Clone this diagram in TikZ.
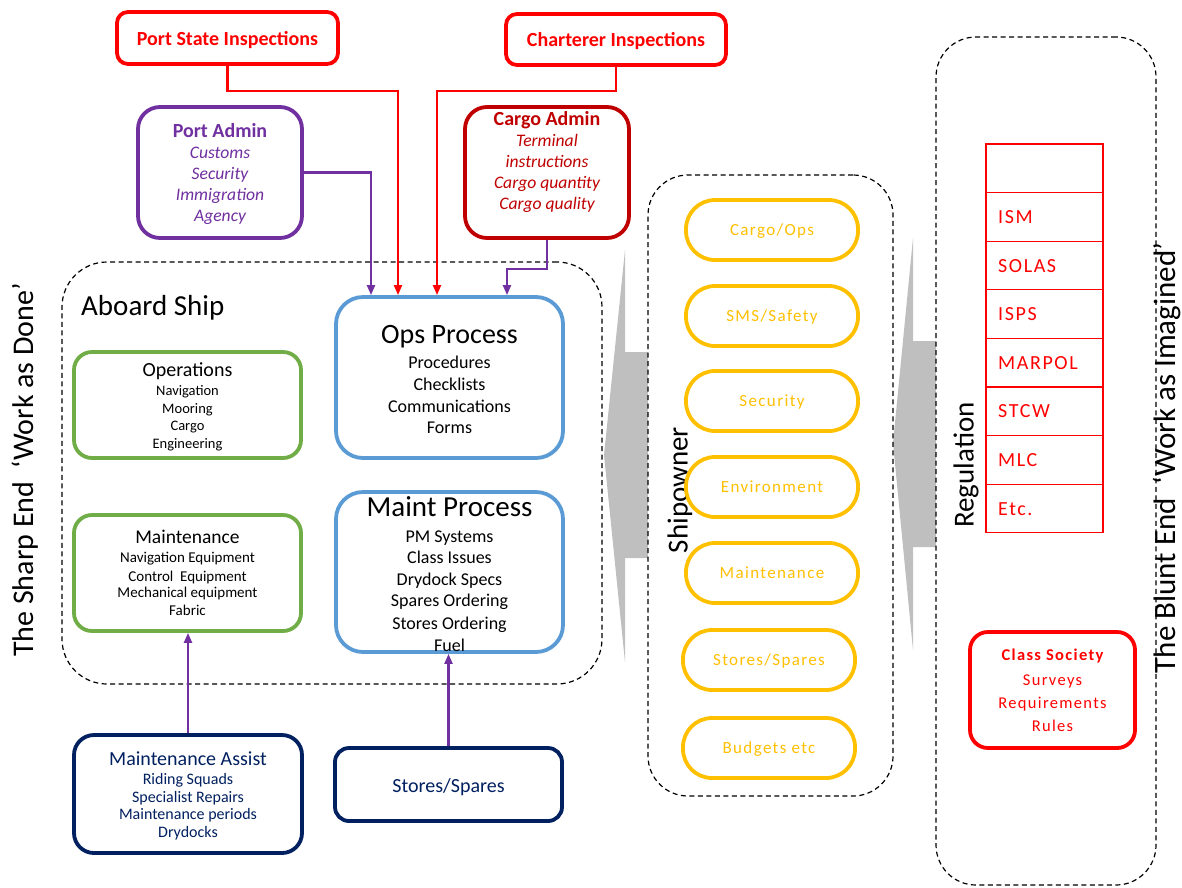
\documentclass[tikz,border=0pt]{standalone}
\usepackage{fontspec}
\setmainfont{Carlito}
\newfontfamily\spaced[LetterSpace=8]{Carlito}
\usetikzlibrary{arrows.meta}
\definecolor{cred}{HTML}{FF0000}
\definecolor{cdred}{HTML}{C00000}
\definecolor{cpurple}{HTML}{7030A0}
\definecolor{cblue}{HTML}{5B9BD5}
\definecolor{cgreen}{HTML}{70AD47}
\definecolor{cnavy}{HTML}{002060}
\definecolor{cyellow}{HTML}{FFC000}
\definecolor{cgray}{HTML}{BFBFBF}
\newcommand\fs[1]{\fontsize{#1}{#1}\selectfont}
\begin{document}
\begin{tikzpicture}[x=1pt,y=-1pt,
  box/.style={draw, line width=3.8pt, fill=white, inner sep=0pt},
  conn/.style={line width=2.1pt, -{Triangle[length=10pt,width=8pt]}},
  dbox/.style={draw, dash pattern=on 5pt off 3.5pt, line width=1.2pt, fill=white, inner sep=0pt},
  txt/.style={inner sep=0pt, anchor=base},
  pill/.style={box, draw=cyellow, rounded corners=29pt, minimum width=172pt, minimum height=60pt},
  pilltxt/.style={txt, text=cyellow, font=\spaced\fs{17}},
  cell/.style={draw=cred, line width=1.2pt, minimum width=117pt, minimum height=48.6pt, inner sep=0pt},
  celltxt/.style={inner sep=0pt, anchor=base west, text=cred, font=\spaced\fs{20}},
  side/.style={inner sep=0pt, rotate=90, font=\fs{30}}
]
\useasboundingbox (0,0) rectangle (1182,887);

% grey arrows
\fill[cgray] (625,250) -- (604,455) -- (625,662) -- (625,558) -- (660,558) -- (660,352) -- (625,352) -- cycle;
\fill[cgray] (913,238) -- (893,443) -- (913,650) -- (913,547) -- (945,547) -- (945,341) -- (913,341) -- cycle;

% dashed containers
\node[dbox, rounded corners=45pt, minimum width=540pt, minimum height=422pt] (aboard) at (332,473) {};
\node[dbox, rounded corners=40pt, minimum width=245pt, minimum height=621pt] (owner) at (770.5,485.5) {};
\node[dbox, rounded corners=40pt, minimum width=220pt, minimum height=848pt] (reg) at (1046,461) {};

% side labels
\node[side] (sharp) at (25,470) {The Sharp End\ \ ‘Work as Done’};
\node[side, font=\fs{31}] (blunt) at (1167,458) {The Blunt End\ \ ‘Work as Imagined’};
\node[side, font=\fs{29}] (shipowner) at (680,490) {Shipowner};
\node[side, font=\fs{29}] (regulation) at (966,465) {Regulation};

% top boxes
\node[box, draw=cred, rounded corners=11pt, minimum width=221pt, minimum height=52pt] (psi) at (227.5,38) {};
\node[txt, text=cred, font=\bfseries\fs{20}] (psit) at (227.5,45) {Port State Inspections};
\node[box, draw=cred, rounded corners=11pt, minimum width=220pt, minimum height=51pt] (chi) at (616,39.5) {};
\node[txt, text=cred, font=\bfseries\fs{20}] (chit) at (616,46) {Charterer Inspections};

\node[box, draw=cpurple, rounded corners=22pt, minimum width=164pt, minimum height=131pt] (padm) at (220,172.5) {};
\node[txt, text=cpurple, font=\bfseries\fs{20}] (padm0) at (220,137) {Port Admin};
\node[txt, text=cpurple, font=\itshape\fs{17.6}] (padm1) at (220,158.3) {Customs};
\node[txt, text=cpurple, font=\itshape\fs{17.6}] (padm2) at (220,179.3) {Security};
\node[txt, text=cpurple, font=\itshape\fs{17.6}] (padm3) at (220,200.3) {Immigration};
\node[txt, text=cpurple, font=\itshape\fs{17.6}] (padm4) at (220,221.3) {Agency};

\node[box, draw=cdred, rounded corners=22pt, minimum width=164pt, minimum height=131pt] (cadm) at (547,172.5) {};
\node[txt, text=cdred, font=\bfseries\fs{20}] (cadm0) at (547,125) {Cargo Admin};
\node[txt, text=cdred, font=\itshape\fs{17.6}] (cadm1) at (547,146.3) {Terminal};
\node[txt, text=cdred, font=\itshape\fs{17.6}] (cadm2) at (547,167.3) {instructions};
\node[txt, text=cdred, font=\itshape\fs{17.6}] (cadm3) at (547,188.3) {Cargo quantity};
\node[txt, text=cdred, font=\itshape\fs{17.6}] (cadm4) at (547,209.3) {Cargo quality};

% aboard ship
\node[txt, anchor=base west, font=\fs{29}] (abt) at (81,315.7) {Aboard Ship};

\node[box, draw=cblue, rounded corners=27pt, minimum width=227pt, minimum height=161pt] (ops) at (449.5,377.5) {};
\node[txt, font=\fs{28}] (ops0) at (449.5,343.4) {Ops Process};
\node[txt, font=\fs{18}] (ops1) at (449.5,368.4) {Procedures};
\node[txt, font=\fs{18}] (ops2) at (449.5,390.4) {Checklists};
\node[txt, font=\fs{18}] (ops3) at (449.5,412.4) {Communications};
\node[txt, font=\fs{18}] (ops4) at (449.5,433.4) {Forms};

\node[box, draw=cblue, rounded corners=27pt, minimum width=227pt, minimum height=160pt] (maint) at (449.5,572) {};
\node[txt, font=\fs{29}] (maint0) at (449.5,516.7) {Maint Process};
\node[txt, font=\fs{18}] (maint1) at (449.5,542.4) {PM Systems};
\node[txt, font=\fs{18}] (maint2) at (449.5,563.4) {Class Issues};
\node[txt, font=\fs{18}] (maint3) at (449.5,585.4) {Drydock Specs};
\node[txt, font=\fs{18}] (maint4) at (449.5,606.4) {Spares Ordering};
\node[txt, font=\fs{18}] (maint5) at (449.5,629.4) {Stores Ordering};
\node[txt, font=\fs{18}] (maint6) at (449.5,651.4) {Fuel};

\node[box, draw=cgreen, rounded corners=18pt, minimum width=227pt, minimum height=106pt] (oper) at (187.5,405) {};
\node[txt, font=\fs{20}] (oper0) at (187.5,376) {Operations};
\node[txt, font=\fs{14.5}] (oper1) at (187.5,395.4) {Navigation};
\node[txt, font=\fs{14.5}] (oper2) at (187.5,413.4) {Mooring};
\node[txt, font=\fs{14.5}] (oper3) at (187.5,430.4) {Cargo};
\node[txt, font=\fs{14.5}] (oper4) at (187.5,448.4) {Engineering};

\node[box, draw=cgreen, rounded corners=18pt, minimum width=227pt, minimum height=116pt] (mainc) at (187.5,573) {};
\node[txt, font=\fs{19.5}] (mainc0) at (187.5,543) {Maintenance};
\node[txt, font=\fs{15}] (mainc1) at (187.5,562.5) {Navigation Equipment};
\node[txt, font=\fs{15}] (mainc2) at (187.5,581.5) {Control\ \ Equipment};
\node[txt, font=\fs{15}] (mainc3) at (187.5,597.5) {Mechanical equipment};
\node[txt, font=\fs{15}] (mainc4) at (187.5,615.5) {Fabric};

% bottom boxes
\node[box, draw=cnavy, rounded corners=20pt, minimum width=228pt, minimum height=118pt] (massist) at (188,794) {};
\node[txt, text=cnavy, font=\fs{20}] (massist0) at (188,765) {Maintenance Assist};
\node[txt, text=cnavy, font=\fs{16}] (massist1) at (188,784.8) {Riding Squads};
\node[txt, text=cnavy, font=\fs{16}] (massist2) at (188,802.8) {Specialist Repairs};
\node[txt, text=cnavy, font=\fs{16}] (massist3) at (188,819.8) {Maintenance periods};
\node[txt, text=cnavy, font=\fs{16}] (massist4) at (188,837.8) {Drydocks};

\node[box, draw=cnavy, rounded corners=14pt, minimum width=227pt, minimum height=73pt] (stores) at (448.5,784.5) {};
\node[txt, text=cnavy, font=\fs{20}] (storest) at (448.5,792) {Stores/Spares};

% connectors
\draw[conn, cpurple] (padm.east) -| ([xshift=-78.5pt]ops.north);
\draw[conn, cred] (psi.south) -- ++(0,25) -| ([xshift=-51.5pt]ops.north);
\draw[conn, cred] (chi.south) -- ++(0,24) -| ([xshift=-12.5pt]ops.north);
\draw[conn, cpurple] (cadm.south) -- ++(0,29) -| ([xshift=57.5pt]ops.north);
\draw[conn, cpurple] (massist.north) -- (massist.north |- mainc.south);
\draw[conn, cpurple] (stores.north) -- (stores.north |- maint.south);

% shipowner pills
\node[pill] (p1) at (772,230) {};
\node[pilltxt] (p1t) at (772,235.1) {Cargo/Ops};
\node[pill] (p2) at (772,316) {};
\node[pilltxt] (p2t) at (772,321.1) {SMS/Safety};
\node[pill] (p3) at (772,401) {};
\node[pilltxt] (p3t) at (772,406.1) {Security};
\node[pill] (p4) at (772,487) {};
\node[pilltxt] (p4t) at (772,492.1) {Environment};
\node[pill] (p5) at (772,573) {};
\node[pilltxt] (p5t) at (772,578.1) {Maintenance};
\node[pill] (p6) at (769,660) {};
\node[pilltxt] (p6t) at (769,665.1) {Stores/Spares};
\node[pill] (p7) at (769,748) {};
\node[pilltxt] (p7t) at (769,753.1) {Budgets etc};

% regulation table
\node[cell] (r0) at (1044.5,168.3) {};
\node[cell] (r1) at (1044.5,216.9) {};
\node[cell] (r2) at (1044.5,265.5) {};
\node[cell] (r3) at (1044.5,314.1) {};
\node[cell] (r4) at (1044.5,362.7) {};
\node[cell] (r5) at (1044.5,411.3) {};
\node[cell] (r6) at (1044.5,459.9) {};
\node[cell] (r7) at (1044.5,508.5) {};
\node[celltxt] (r1t) at (998,223.4) {ISM};
\node[celltxt] (r2t) at (998,272.0) {SOLAS};
\node[celltxt] (r3t) at (998,320.6) {ISPS};
\node[celltxt] (r4t) at (998,369.2) {MARPOL};
\node[celltxt] (r5t) at (998,417.8) {STCW};
\node[celltxt] (r6t) at (998,466.4) {MLC};
\node[celltxt] (r7t) at (998,515.0) {Etc.};

% class society
\node[box, draw=cred, rounded corners=18pt, minimum width=165pt, minimum height=116pt] (cls) at (1052.5,690) {};
\node[txt, text=cred, font=\spaced\bfseries\fs{16.5}] (cls0) at (1052.5,660) {Class Society};
\node[txt, text=cred, font=\spaced\fs{16.5}] (cls1) at (1052.5,685) {Surveys};
\node[txt, text=cred, font=\spaced\fs{16.5}] (cls2) at (1052.5,708) {Requirements};
\node[txt, text=cred, font=\spaced\fs{16.5}] (cls3) at (1052.5,731) {Rules};
\end{tikzpicture}
\end{document}
